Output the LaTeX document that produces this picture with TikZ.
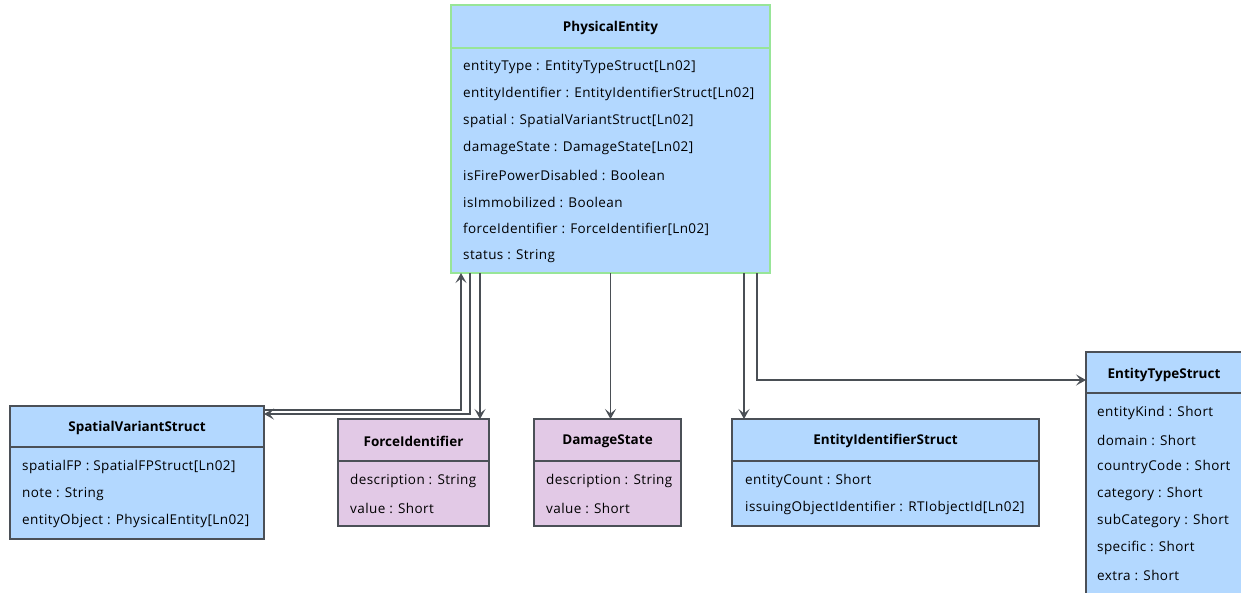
\documentclass[tikz,border=0pt]{standalone}
\usepackage{fontspec}
\setmainfont{Open Sans}
\newfontfamily\attrfont[LetterSpace=3]{Open Sans}
\usetikzlibrary{arrows.meta,calc}
\definecolor{clsblue}{HTML}{B3D8FF}
\definecolor{clspink}{HTML}{E2C9E6}
\definecolor{clsborder}{HTML}{4B5057}
\definecolor{peborder}{HTML}{98E598}
\definecolor{linkgray}{HTML}{4A4F55}
\tikzset{
  clsbox/.style={draw=clsborder, line width=1.6pt, inner sep=0pt, outer sep=0pt, anchor=north west},
  bluebox/.style={clsbox, fill=clsblue},
  pinkbox/.style={clsbox, fill=clspink},
  pebox/.style={clsbox, fill=clsblue, draw=peborder, line width=2.6pt},
  clstitle/.style={font=\fontsize{13.5}{15}\selectfont\bfseries, inner sep=0pt, anchor=center},
  attr/.style={font=\attrfont\fontsize{13.5}{15}\selectfont, inner sep=0pt, anchor=west},
  sepline/.style={draw=clsborder, line width=1.6pt},
  pesep/.style={draw=peborder, line width=2.6pt},
  assoc/.style={draw=linkgray, line width=1.4pt, -{Stealth[length=10pt,width=11pt,inset=4.5pt]}},
}
\begin{document}
\begin{tikzpicture}[x=1pt,y=-1pt]
\useasboundingbox (0,0) rectangle (1241,592);
\clip (0,0) rectangle (1241,592);
% PhysicalEntity
\node[pebox, minimum width=319pt, minimum height=268pt] (pe) at (451,5) {};
\node[clstitle] (peT) at ($(pe.north)+(0,23)$) {PhysicalEntity};
\draw[pesep] ($(pe.north west)+(0,43)$) -- ($(pe.north east)+(0,43)$);
\node[attr] (pe1) at ($(pe.north west)+(12,62)$) {entityType : EntityTypeStruct[Ln02]};
\node[attr] (pe2) at ($(pe.north west)+(12,89)$) {entityIdentifier : EntityIdentifierStruct[Ln02]};
\node[attr] (pe3) at ($(pe.north west)+(12,116)$) {spatial : SpatialVariantStruct[Ln02]};
\node[attr] (pe4) at ($(pe.north west)+(12,143)$) {damageState : DamageState[Ln02]};
\node[attr] (pe5) at ($(pe.north west)+(12,170)$) {isFirePowerDisabled : Boolean};
\node[attr] (pe6) at ($(pe.north west)+(12,197)$) {isImmobilized : Boolean};
\node[attr] (pe7) at ($(pe.north west)+(12,224)$) {forceIdentifier : ForceIdentifier[Ln02]};
\node[attr] (pe8) at ($(pe.north west)+(12,251)$) {status : String};
% SpatialVariantStruct
\node[bluebox, minimum width=254pt, minimum height=133pt] (svs) at (10,406) {};
\node[clstitle] (svsT) at ($(svs.north)+(0,22)$) {SpatialVariantStruct};
\draw[sepline] ($(svs.north west)+(0,41)$) -- ($(svs.north east)+(0,41)$);
\node[attr] (svs1) at ($(svs.north west)+(12,61)$) {spatialFP : SpatialFPStruct[Ln02]};
\node[attr] (svs2) at ($(svs.north west)+(12,88)$) {note : String};
\node[attr] (svs3) at ($(svs.north west)+(12,115)$) {entityObject : PhysicalEntity[Ln02]};
% ForceIdentifier
\node[pinkbox, minimum width=151pt, minimum height=107pt] (fi) at (338,419) {};
\node[clstitle] (fiT) at ($(fi.north)+(0,22)$) {ForceIdentifier};
\draw[sepline] ($(fi.north west)+(0,42)$) -- ($(fi.north east)+(0,42)$);
\node[attr] (fi1) at ($(fi.north west)+(12,62)$) {description : String};
\node[attr] (fi2) at ($(fi.north west)+(12,89)$) {value : Short};
% DamageState
\node[pinkbox, minimum width=147pt, minimum height=107pt] (ds) at (534,419) {};
\node[clstitle] (dsT) at ($(ds.north)+(0,22)$) {DamageState};
\draw[sepline] ($(ds.north west)+(0,42)$) -- ($(ds.north east)+(0,42)$);
\node[attr] (ds1) at ($(ds.north west)+(12,62)$) {description : String};
\node[attr] (ds2) at ($(ds.north west)+(12,89)$) {value : Short};
% EntityIdentifierStruct
\node[bluebox, minimum width=307pt, minimum height=107pt] (eis) at (732,419) {};
\node[clstitle] (eisT) at ($(eis.north)+(0,22)$) {EntityIdentifierStruct};
\draw[sepline] ($(eis.north west)+(0,42)$) -- ($(eis.north east)+(0,42)$);
\node[attr] (eis1) at ($(eis.north west)+(13,62)$) {entityCount : Short};
\node[attr] (eis2) at ($(eis.north west)+(13,89)$) {issuingObjectIdentifier : RTIobjectId[Ln02]};
% EntityTypeStruct
\node[bluebox, minimum width=200pt, minimum height=260pt] (ets) at (1086,352) {};
\node[clstitle] (etsT) at ($(ets.north west)+(78,23)$) {EntityTypeStruct};
\draw[sepline] ($(ets.north west)+(0,41)$) -- ($(ets.north east)+(0,41)$);
\node[attr] (ets1) at ($(ets.north west)+(11,61)$) {entityKind : Short};
\node[attr] (ets2) at ($(ets.north west)+(11,88)$) {domain : Short};
\node[attr] (ets3) at ($(ets.north west)+(11,115)$) {countryCode : Short};
\node[attr] (ets4) at ($(ets.north west)+(11,142)$) {category : Short};
\node[attr] (ets5) at ($(ets.north west)+(11,169)$) {subCategory : Short};
\node[attr] (ets6) at ($(ets.north west)+(11,196)$) {specific : Short};
\node[attr] (ets7) at ($(ets.north west)+(11,223)$) {extra : Short};
% connectors
\draw[assoc] ($(svs.north east)+(0,4)$) -| ($(pe.south west)+(10,0)$);
\draw[assoc] ($(pe.south west)+(19,0)$) |- ($(svs.north east)+(0,8)$);
\coordinate (fiA) at ($(pe.south west)+(29,0)$);
\draw[assoc] (fiA) -- (fiA |- fi.north);
\draw[assoc] (pe.south) -- (pe.south |- ds.north);
\coordinate (eisA) at ($(pe.south east)+(-26,0)$);
\draw[assoc] (eisA) -- (eisA |- eis.north);
\draw[assoc] ($(pe.south east)+(-13,0)$) |- ($(ets.north west)+(0,28)$);
\end{tikzpicture}
\end{document}
